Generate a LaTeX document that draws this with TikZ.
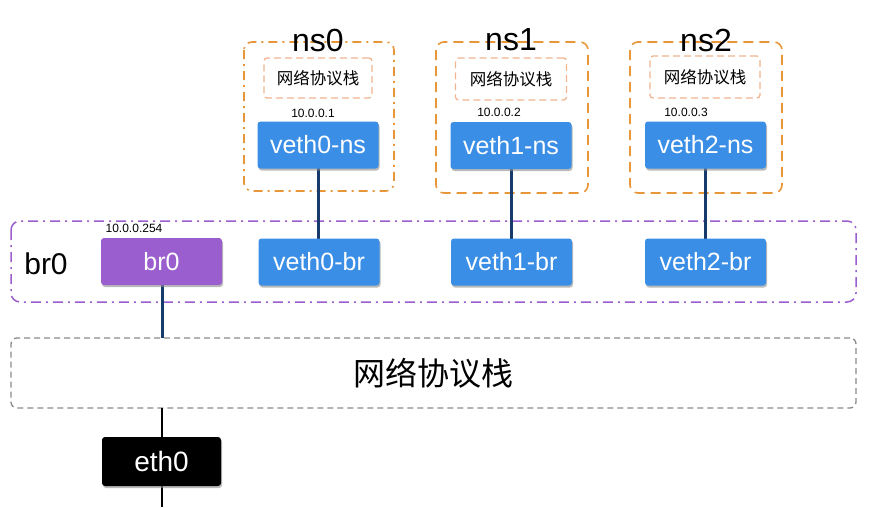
\documentclass[tikz,border=0pt]{standalone}
\usepackage{fontspec}
\setmainfont{Liberation Sans}
\newfontfamily\cjk{Noto Sans CJK SC}
\usetikzlibrary{shadows}
\definecolor{vblue}{HTML}{3A8EE6}
\definecolor{vpurple}{HTML}{9A5ECE}
\definecolor{nsorange}{HTML}{E8963A}
\definecolor{salmon}{HTML}{F0B491}
\definecolor{navy}{HTML}{173A6B}
\definecolor{dgray}{HTML}{8A8A8A}
\tikzset{
  dev/.style={rounded corners=3pt, minimum width=121pt, minimum height=47pt, text=white,
     font=\fontsize{25}{25}\selectfont, inner sep=0pt,
     drop shadow={shadow xshift=1pt, shadow yshift=-2pt, fill=black!45, opacity=0.6}},
  bluedev/.style={dev, fill=vblue},
  nsdd/.style={draw=nsorange, line width=1.6pt, rounded corners=8pt, dash pattern=on 9pt off 5pt on 2pt off 5pt},
  nsdash/.style={draw=nsorange, line width=1.6pt, rounded corners=8pt, dash pattern=on 10pt off 6pt},
  inner/.style={draw=salmon, line width=1.3pt, rounded corners=3pt, dash pattern=on 7pt off 4pt, font=\cjk\fontsize{16.5}{16.5}\selectfont},
  ip/.style={font=\fontsize{12}{12}\selectfont, inner sep=0pt},
  nslabel/.style={font=\fontsize{32}{32}\selectfont, inner sep=0pt},
  link/.style={draw=navy, line width=3pt},
}
\begin{document}
\begin{tikzpicture}[x=1pt,y=-1pt]
\useasboundingbox (0,0) rectangle (876,507);
% namespace boxes
\draw[nsdd] (244,42) rectangle (394,191);
\draw[nsdash] (436,42) rectangle (588,193);
\draw[nsdash] (630,42) rectangle (782,193);
\node[nslabel] (ns0) at (318,40) {ns0};
\node[nslabel] (ns1) at (511,40) {ns1};
\node[nslabel] (ns2) at (706,40) {ns2};
\node[inner, minimum width=108pt, minimum height=40pt] (st0) at (318,78) {网络协议栈};
\node[inner, minimum width=111pt, minimum height=42pt] (st1) at (511,79) {网络协议栈};
\node[inner, minimum width=110pt, minimum height=42pt] (st2) at (705,77) {网络协议栈};
\node[ip] (ip0) at (313,113) {10.0.0.1};
\node[ip] (ip1) at (499,112) {10.0.0.2};
\node[ip] (ip2) at (686,112) {10.0.0.3};
% bridge box
\draw[draw=vpurple, line width=1.5pt, rounded corners=9pt, dash pattern=on 10pt off 5pt on 2pt off 5pt] (11,221) rectangle (856,302);
\node[font=\fontsize{30}{30}\selectfont, inner sep=0pt] (brlabel) at (46,264) {br0};
% links (drawn before devices)
\coordinate (a0) at (318,146);
\coordinate (b0) at (318,262);
\coordinate (a1) at (511,146);
\coordinate (b1) at (511,262);
\coordinate (a2) at (705,146);
\coordinate (b2) at (705,262);
\draw[link] (a0) -- (b0);
\draw[link] (a1) -- (b1);
\draw[link] (a2) -- (b2);
\coordinate (brc) at (162,262);
\coordinate (stk) at (162,338);
\draw[link] (brc) -- (stk);
% big stack
\node[draw=dgray, line width=1.3pt, rounded corners=6pt, dash pattern=on 6pt off 4pt, minimum width=845pt, minimum height=70pt, font=\cjk\fontsize{32}{32}\selectfont] (stack) at (433.5,373) {网络协议栈};
\coordinate (ethtop) at (162,408);
\coordinate (ethbot) at (162,507);
\draw[black, line width=2.2pt] (ethtop) -- (ethbot);
% devices
\node[bluedev] (v0ns) at (318,145) {veth0-ns};
\node[bluedev] (v1ns) at (511,145.5) {veth1-ns};
\node[bluedev] (v2ns) at (705.5,145) {veth2-ns};
\node[bluedev] (v0br) at (319,262) {veth0-br};
\node[bluedev] (v1br) at (511.5,262) {veth1-br};
\node[bluedev] (v2br) at (705.5,262) {veth2-br};
\node[dev, fill=vpurple] (br0) at (161.5,261.5) {br0};
\node[ip] (ipbr) at (134,228) {10.0.0.254};
\node[dev, fill=black, minimum width=119pt, minimum height=49pt, font=\fontsize{28}{28}\selectfont] (eth0) at (161.5,461.5) {eth0};
\end{tikzpicture}
\end{document}
